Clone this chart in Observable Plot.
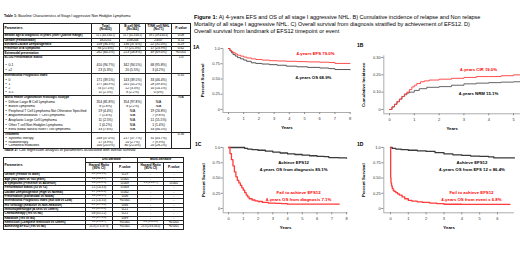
<!DOCTYPE html>
<html><head><meta charset="utf-8">
<script src="https://cdn.jsdelivr.net/npm/d3@7"></script>
<script src="https://cdn.jsdelivr.net/npm/@observablehq/plot@0.6"></script>
<style>
html,body{margin:0;padding:0;background:#fff}
#page{position:relative;width:520px;height:260px;overflow:hidden;font-family:"Liberation Sans",Arial,sans-serif;color:#000}
.abs{position:absolute;white-space:nowrap}
table.tb{border-collapse:collapse;table-layout:fixed;font-size:3.3px;line-height:1;border:0.7px solid #222;color:#000}
table.tb td,table.tb th{border-left:0.7px solid #222;border-right:0.7px solid #222;padding:0 0.5px;white-space:nowrap;overflow:hidden;vertical-align:middle}
table.tb th{font-weight:bold;text-align:center;border-bottom:0.7px solid #222;border-top:0.7px solid #222}
table.tb tr.box td{border-top:0.7px solid #222;border-bottom:0.7px solid #222}
table.tb tbody.sec{border-top:0.7px solid #222;border-bottom:0.7px solid #222}
.l{text-align:left!important}.c{text-align:center}.b{font-weight:bold;font-size:3.05px;letter-spacing:-0.03px}.ind{padding-left:1.5px!important}
.sm{font-size:2.75px;letter-spacing:-0.05px}
</style></head>
<body><div id="page"></div>
<script>
// ================= DATA =================
// Table 1
const t1Title = ["Table 1:", " Baseline Characteristics of Stage I aggressive Non Hodgkin Lymphoma"];
const t1Header = ["Parameters", "Total<br>(N=433)", "B cell NHL<br>(N=362)", "T/NK cell NHL<br>(N=71)", "P-value"];
const t1Rows = [
  ["Median age at diagnosis in years (Inter Quartile Range)", "51.1 (44.3-64.1)", "51.7 (45.3-64.5)", "49.1 (39.4-64.4)", "0.08"],
  ["Gender (Female/Male)", "182/251", "158/204", "24/47", "0.11"],
  ["Elevated Lactate Dehydrogenase", "158 (36.3%)", "136 (37.6%)", "22 (31.0%)", "0.29"],
  ["Presence of B symptoms", "94 (21.6%)", "77 (21.3%)", "17 (23.9%)", "0.62"],
  ["Extranodal presentation", "262 (60.5%)", "213 (58.8%)", "49 (69.0%)", "<0.001"]
];
const ecogRows = [["0-1", "410 (94.7%)", "342 (94.5%)", "68 (95.8%)"], ["≥2", "23 (5.3%)", "20 (5.5%)", "3 (4.2%)"]];
const ipiRows = [["0", "171 (39.5%)", "143 (39.5%)", "33 (46.4%)"], ["1", "177 (40.9%)", "201 (55.2%)", "28 (39.4%)"],
  ["2", "74 (17.1%)", "12 (3.3%)", "10 (14.1%)"], ["3-5", "11 (2.5%)", "8 (2.2%)", "0 (0%)"]];
const whoRows = [
  ["Diffuse Large B Cell Lymphoma", "354 (81.8%)", "354 (97.8%)", "N/A"],
  ["Burkitt Lymphoma", "8 (1.8%)", "8 (2.2%)", "N/A"],
  ["Peripheral T Cell Lymphoma Not Otherwise Specified", "19 (4.4%)", "N/A", "19 (26.8%)"],
  ["Angioimmunoblastic T Cell Lymphoma", "7 (1.6%)", "N/A", "7 (9.8%)"],
  ["Anaplastic Large Cell Lymphoma", "11 (2.5%)", "N/A", "11 (15.5%)"],
  ["Other T cell Non Hodgkin Lymphoma", "1 (0.2%)", "N/A", "1 (1.4%)"],
  ["Extra Nodal Natural Killer/T cell lymphoma", "33 (7.6%)", "N/A", "33 (46.5%)"]
];
const treatRows = [["Systemic therapy", "248 (57.0%)", "217 (57.7%)", "31 (43.7%)"],
  ["Radiotherapy", "17 (3.9%)", "10 (2.7%)", "7 (9.9%)"], ["Combined modalities", "100 (23.0%)", "80 (22.0%)", "20 (28.2%)"]];
const t1Sections = [
  ["ECOG Performance Status", "1.0", ecogRows],
  ["International Prognostic Index", "0.35", ipiRows],
  ["World Health Organization histologic subtype", "N/A", whoRows],
  ["Treatment", "0.36", treatRows]
];
// Table 2
const t2Title = ["Table 2:", " Cox regression analysis of parameters associated with overall survival"];
const t2Groups = ["Uni-variable", "Multi-variable"];
const t2Sub = ["Hazard Ratio<br>(95% CI)", "P-value", "Hazard Ratio<br>(95% CI)", "P-value"];
const t2Params = ["Gender (Female vs Male)", "Age (≥60 years vs <60 years)", "B symptoms (Presence vs Absence)",
  "Performance Status (≥2 vs <2)", "Lactate Dehydrogenase (High vs Normal)", "Presentation (Extranodal vs Nodal)",
  "International Prognostic Index (Not low vs Low)", "HIV serology (Reactive vs Non-Reactive)",
  "Immunophenotype (B cells vs Others)", "Chemotherapy (Yes vs No)", "Radiation (Yes vs No)",
  "Remission (Complete remission vs Others)", "Achieving EFS12 (Yes vs No)"];
const t2UniHR = ["0.8 (0.6-1.1)", "1.6 (1.4-1.7)", "1.6 (1.2-2.3)", "2.1 (1.4-3.3)", "1.7 (1.2-2.3)", "1.4 (1.0-1.9)",
  "2.1 (1.4-3.0)", "0.9 (0.7-1.3)", "1.1 (0.9-2.2)", "0.8 (0.5-1.2)", "1.0 (0.7-1.3)", "3.3 (2.3-4.7)", "25.3 (17.3-37.9)"];
const t2UniP = ["0.19", "0.001", "0.009", "0.003", "0.002", "0.06", "<0.001", "0.66", "0.21", "0.21", "0.89", "<0.001", "<0.001"];
const t2MultiHR = ["-", "-", "1.6 (1.2-2.7)", "-", "-", "-", "-", "-", "-", "-", "-", "2.2 (1.4-3.2)", "25.3 (23.6-34.0)"];
const t2MultiP = ["-", "-", "0.005", "-", "-", "-", "-", "-", "-", "-", "-", "<0.001", "<0.001"];

// Figure caption
const captionLines = [
  ["Figure 1:", " A) 4-years EFS and OS of all stage I aggressive NHL. B) Cumulative incidence of relapse and Non relapse"],
  ["", "Mortality of all stage I aggressive NHL. C) Overall survival from diagnosis stratified by achievement of EFS12. D)"],
  ["", "Overall survival from landmark of EFS12 timepoint or event"]
];
const panelNames = ["1A", "1B", "1C", "1D"];

// 1A: EFS and OS (years, survival)
const efsTime = [0, 0.1, 0.2, 0.3, 0.45, 0.6, 0.8, 1.0, 1.2, 1.5, 1.8, 2.2, 2.7, 3.2, 3.8, 4.5, 5.2, 6.0, 6.6, 7.0, 8.0];
const efsSurv = [1.0, 0.97, 0.95, 0.93, 0.91, 0.89, 0.875, 0.86, 0.845, 0.83, 0.82, 0.81, 0.80, 0.795, 0.79, 0.785, 0.78, 0.775, 0.77, 0.755, 0.755];
const osTime = [0, 0.1, 0.2, 0.3, 0.45, 0.6, 0.8, 1.0, 1.2, 1.5, 1.8, 2.2, 2.7, 3.2, 3.8, 4.5, 5.2, 6.0, 6.6, 7.0, 8.0];
const osSurv = [1.0, 0.96, 0.93, 0.90, 0.875, 0.85, 0.83, 0.81, 0.79, 0.765, 0.755, 0.745, 0.735, 0.725, 0.71, 0.70, 0.69, 0.68, 0.67, 0.655, 0.65];
// 1B: cumulative incidence
const cirTime = [0, 0.1, 0.2, 0.3, 0.4, 0.5, 0.6, 0.7, 0.8, 0.9, 1.0, 1.1, 1.25, 1.4, 1.6, 2.0, 2.5, 3.0, 3.5, 4.0, 4.5, 5.0, 5.28];
const cirVal = [0, 0.015, 0.03, 0.045, 0.06, 0.075, 0.09, 0.10, 0.115, 0.13, 0.14, 0.15, 0.16, 0.165, 0.17, 0.175, 0.18, 0.185, 0.19, 0.19, 0.195, 0.20, 0.205];
const nrmTime = [0, 0.1, 0.2, 0.3, 0.4, 0.5, 0.6, 0.7, 0.8, 1.0, 1.2, 1.5, 2.0, 2.5, 3.0, 3.5, 4.0, 4.5, 5.0, 5.28];
const nrmVal = [0, 0.015, 0.03, 0.045, 0.06, 0.075, 0.085, 0.095, 0.10, 0.11, 0.12, 0.128, 0.132, 0.14, 0.148, 0.152, 0.155, 0.158, 0.16, 0.16];
// 1C: OS from diagnosis by EFS12
const cAchTime = [0, 1.0, 1.1, 1.3, 1.6, 2.0, 2.5, 3.0, 3.5, 4.0, 4.5, 5.0, 5.5, 6.0, 6.5, 6.8, 7.5, 8.0];
const cAchSurv = [1.0, 1.0, 0.985, 0.975, 0.965, 0.955, 0.94, 0.925, 0.91, 0.895, 0.885, 0.875, 0.865, 0.855, 0.85, 0.835, 0.83, 0.825];
const cFailTime = [0, 0.1, 0.2, 0.3, 0.4, 0.5, 0.6, 0.7, 0.8, 0.9, 1.0, 1.1, 1.2, 1.3, 1.4, 1.6, 1.8, 2.0, 2.3, 2.7, 3.2, 3.6, 4.0, 7.5];
const cFailSurv = [1.0, 0.9, 0.8, 0.7, 0.6, 0.52, 0.46, 0.42, 0.38, 0.34, 0.30, 0.26, 0.22, 0.19, 0.16, 0.14, 0.125, 0.115, 0.10, 0.09, 0.085, 0.08, 0.071, 0.071];
// 1D: OS from landmark
const dAchTime = [0, 0.1, 0.3, 0.6, 1.0, 1.5, 2.0, 2.5, 3.0, 3.5, 4.0, 4.5, 5.0, 5.5, 5.8, 6.95];
const dAchSurv = [1.0, 0.985, 0.975, 0.965, 0.955, 0.945, 0.935, 0.915, 0.895, 0.88, 0.87, 0.86, 0.855, 0.845, 0.83, 0.83];
const dFailTime = [0, 0.01, 0.03, 0.06, 0.1, 0.15, 0.2, 0.3, 0.4, 0.5, 0.65, 0.8, 1.0, 1.2, 1.5, 1.8, 2.2, 2.6, 3.0, 4.0, 6.7];
const dFailSurv = [1.0, 0.5, 0.42, 0.37, 0.33, 0.30, 0.28, 0.26, 0.24, 0.22, 0.19, 0.16, 0.135, 0.12, 0.11, 0.10, 0.09, 0.08, 0.07, 0.068, 0.068];

const survTicks = [0, 0.25, 0.5, 0.75, 1];
const survTickLabels = ["0", "0.25", "0.50", "0.75", "1.0"];
const cumTicks = [0, 0.1, 0.2, 0.3];
const cumTickLabels = ["0", "0.10", "0.20", "0.30"];
const yearsA = [0, 1, 2, 3, 4, 5, 6, 7, 8];
const yearsB = [0, 1, 2, 3, 4, 5];
const yearsC = [0, 1, 2, 3, 4, 5, 6, 7, 8];
const yearsD = [0, 1, 2, 3, 4, 5, 6];
const axisTitles = ["Percent Survival", "Cumulative Incidence", "Years"];
const notesA = ["4-years EFS 79.0%", "4-years OS 68.9%"];
const notesB = ["4-years CIR 19.0%", "4-years NRM 15.1%"];
const notesC = ["Achieve EFS12\n4-years OS from diagnosis 89.1%", "Fail to achieve EFS12\n4-years OS from diagnosis 7.1%"];
const notesD = ["Achieve EFS12\n4-years OS from EFS 12 = 86.4%", "Fail to achieve EFS12\n4-years OS from event = 6.8%"];

// ================= LAYOUT =================
const page = document.getElementById("page");
function addDiv(html, style) {
  const d = document.createElement("div");
  d.className = "abs";
  d.style.cssText = style;
  d.innerHTML = html;
  page.appendChild(d);
  return d;
}
const vcell = v => `<td class="c${String(v).length > 12 ? " sm" : ""}">${v}</td>`;

// Table 1
addDiv(`<b>${t1Title[0]}</b>${t1Title[1]}`, "left:4px;top:15px;font-size:3.55px;line-height:3.5px");
{
  const W = [88, 28, 26, 26, 19];
  let h = `<table class="tb" style="width:${W.reduce((a, b) => a + b)}px"><colgroup>${W.map(w => `<col style="width:${w}px">`).join("")}</colgroup>`;
  h += `<tr style="height:10.6px">${t1Header.map((x, i) => `<th class="${i ? "c" : "l"}">${x}</th>`).join("")}</tr>`;
  h += t1Rows.map(r => `<tr class="box" style="height:3.2px"><td class="l b">${r[0]}</td>${r.slice(1).map(vcell).join("")}</tr>`).join("");
  const sty = [[7.5, 5.5], [4.5, 4.3], [4.5, 4.6], [4.5, 3.9]];
  t1Sections.forEach(([title, p, items], si) => {
    h += `<tbody class="sec"><tr style="height:${sty[si][0]}px;vertical-align:top"><td class="l b" style="vertical-align:top">${title}</td><td></td><td></td><td></td><td class="c" rowspan="${items.length + 1}" style="vertical-align:top">${p}</td></tr>`;
    h += items.map(it => `<tr style="height:${sty[si][1]}px"><td class="l ind">•&nbsp;&nbsp;${it[0]}</td>${it.slice(1).map(vcell).join("")}</tr>`).join("");
    h += `</tbody>`;
  });
  h += `</table>`;
  addDiv(h, "left:3px;top:22.7px");
}

// Table 2
addDiv(`<b>${t2Title[0]}</b>${t2Title[1]}`, "left:4px;top:149px;font-size:3.75px;line-height:3.6px");
{
  const W = [82, 26.7, 25.3, 26.3, 20];
  let h = `<table class="tb" style="width:${W.reduce((a, b) => a + b)}px"><colgroup>${W.map(w => `<col style="width:${w}px">`).join("")}</colgroup>`;
  h += `<tr style="height:3.8px"><th class="l" rowspan="2">Parameters</th><th colspan="2">${t2Groups[0]}</th><th colspan="2">${t2Groups[1]}</th></tr>`;
  h += `<tr style="height:10.6px">${t2Sub.map(s => `<th>${s}</th>`).join("")}</tr>`;
  h += t2Params.map((p, i) => `<tr class="box" style="height:4.35px"><td class="l b">${p}</td>${[t2UniHR[i], t2UniP[i], t2MultiHR[i], t2MultiP[i]].map(vcell).join("")}</tr>`).join("");
  h += `</table>`;
  addDiv(h, "left:3px;top:157.3px");
}

// Caption
addDiv(captionLines.map(l => (l[0] ? `<b>${l[0]}</b>` : "") + l[1]).join("<br>"),
  "left:194px;top:13.6px;font-size:5.55px;line-height:7.4px");

// Panel labels
[[193, 45], [357, 43], [195, 141.5], [357, 141.5]].forEach(([x, y], i) =>
  addDiv(`<b>${panelNames[i]}</b>`, `left:${x}px;top:${y}px;font-size:5px;line-height:5px`));

// ================= CHARTS =================
const RED = "#ff3b3b", DARK = "#3a3a3a";
function km(o) {
  const marks = [
    Plot.ruleX([o.xDom[0]], {stroke: "#8a8a8a", strokeWidth: 0.7}),
    Plot.ruleY([o.yDom[0]], {stroke: "#8a8a8a", strokeWidth: 0.7}),
    Plot.axisX({ticks: o.xTicks, tickFormat: d => String(d), tickSize: 2, tickPadding: 2.5, label: null, stroke: "#8a8a8a", fill: "#333"}),
    Plot.axisY({ticks: o.yTicks, tickFormat: d => o.yLabels[o.yTicks.indexOf(d)], tickSize: 2, tickPadding: 1, label: null, stroke: "#8a8a8a", fill: "#333"}),
    ...o.series.map(s => Plot.line(s.t.map((t, i) => ({t, v: s.v[i]})), {x: "t", y: "v", stroke: s.color, strokeWidth: o.sw, curve: "step-after"})),
    Plot.text([o.yTitle], {frameAnchor: "left", rotate: -90, dx: -20, textAnchor: "middle", lineAnchor: "middle", fontWeight: "bold", fontSize: 4.3, fill: "#000"}),
    Plot.text([axisTitles[2]], {frameAnchor: "bottom", dy: 15, textAnchor: "middle", lineAnchor: "middle", fontWeight: "bold", fontSize: 4.3, fill: "#000"}),
    ...o.notes.map(n => Plot.text([n.text], {x: () => n.x, y: () => n.y, fill: n.color, fontWeight: "bold", fontSize: 4.3, lineHeight: 1.6, textAnchor: "middle", lineAnchor: "middle"}))
  ];
  const svg = Plot.plot({
    width: o.w, height: o.h,
    marginLeft: o.mL, marginRight: o.mR, marginTop: o.mT, marginBottom: o.mB,
    x: {domain: o.xDom}, y: {domain: o.yDom},
    style: {fontFamily: "Liberation Sans, Arial, sans-serif", fontSize: "4px", background: "transparent", overflow: "visible"},
    marks
  });
  svg.style.position = "absolute";
  svg.style.left = o.left + "px";
  svg.style.top = o.top + "px";
  page.appendChild(svg);
}

km({left: 180, top: 38, w: 175, h: 98, mL: 42.5, mR: 4.6, mT: 10, mB: 24,
  xDom: [-0.36, 8.05], yDom: [-0.05, 1.0], xTicks: yearsA, yTicks: survTicks, yLabels: survTickLabels,
  yTitle: axisTitles[0], sw: 0.9,
  series: [{t: osTime, v: osSurv, color: "#444"}, {t: efsTime, v: efsSurv, color: RED}],
  notes: [{text: notesA[0], x: 5.72, y: 0.934, color: "#ff0000"}, {text: notesA[1], x: 5.59, y: 0.541, color: "#000"}]});

km({left: 355, top: 38, w: 165, h: 98, mL: 28.3, mR: 0, mT: 17.3, mB: 22.7,
  xDom: [-0.23, 5.28], yDom: [-0.025, 0.31], xTicks: yearsB, yTicks: cumTicks, yLabels: cumTickLabels,
  yTitle: axisTitles[1], sw: 0.9,
  series: [{t: nrmTime, v: nrmVal, color: "#555"}, {t: cirTime, v: cirVal, color: RED}],
  notes: [{text: notesB[0], x: 3.59, y: 0.237, color: "#ff0000"}, {text: notesB[1], x: 3.59, y: 0.098, color: "#000"}]});

km({left: 180, top: 137, w: 175, h: 98, mL: 42.7, mR: 7.5, mT: 10, mB: 22.7,
  xDom: [-0.36, 8.1], yDom: [-0.07, 1.0], xTicks: yearsC, yTicks: survTicks, yLabels: survTickLabels,
  yTitle: axisTitles[0], sw: 1.3,
  series: [{t: cAchTime, v: cAchSurv, color: DARK}, {t: cFailTime, v: cFailSurv, color: RED}],
  notes: [{text: notesC[0], x: 4.41, y: 0.713, color: "#000"}, {text: notesC[1], x: 4.75, y: 0.221, color: "#ff0000"}]});

km({left: 355, top: 137, w: 165, h: 98, mL: 28.3, mR: 6.1, mT: 10, mB: 22.7,
  xDom: [-0.375, 6.95], yDom: [-0.07, 1.0], xTicks: yearsD, yTicks: survTicks, yLabels: survTickLabels,
  yTitle: axisTitles[0], sw: 1.3,
  series: [{t: dAchTime, v: dAchSurv, color: DARK}, {t: dFailTime, v: dFailSurv, color: RED}],
  notes: [{text: notesD[0], x: 4.57, y: 0.705, color: "#000"}, {text: notesD[1], x: 4.54, y: 0.221, color: "#ff0000"}]});
</script>
</body></html>
